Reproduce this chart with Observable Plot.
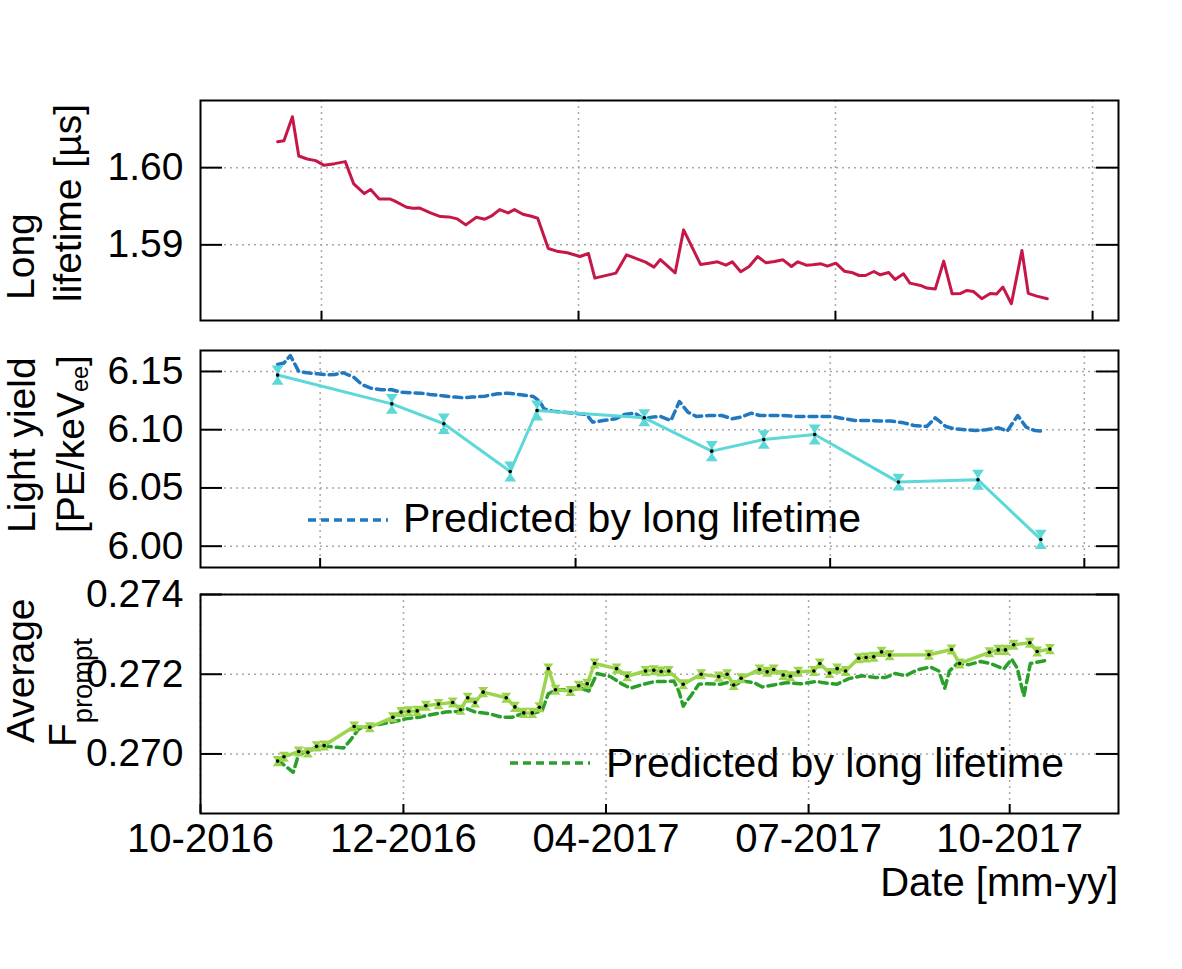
<!DOCTYPE html>
<html><head><meta charset="utf-8">
<script src="https://cdn.jsdelivr.net/npm/d3@7"></script>
<script src="https://cdn.jsdelivr.net/npm/@observablehq/plot@0.6"></script>
<style>
body{margin:0;background:#fff;}
#fig{position:relative;width:1182px;height:969px;font-family:"Liberation Sans",Arial,Helvetica,sans-serif;color:#000;overflow:hidden;background:#fff;}
#fig svg.p{position:absolute;left:0;}
.t{position:absolute;font-size:39px;white-space:nowrap;line-height:39px;}
.rot{transform-origin:0 0;transform:rotate(-90deg);}
</style></head><body><div id="fig"></div>
<script>
// ---- data (x = days since 2016-11-01) ----
const lifetimeDays = [1,4,8,11,15,19,23,28,33,37,42,45,49,54,56,62,65,68,73,78,82,86,90,95,99,102,106,110,113,117,121,124,129,133,138,144,148,151,155,161,166,171,175,179,182,186,189,193,201,205,209,213,216,220,224,228,232,236,240,244,247,251,254,258,261,265,269,273,276,279,283,286,290,293,297,300,305,308,312,316,320,324,327,330,334,338,341,344,348,353,356,360,365];
const lifetimeVals = [1.60336,1.60349,1.60659,1.60151,1.60112,1.60091,1.60030,1.60052,1.60078,1.59789,
1.59664,1.59716,1.59595,1.59595,1.59573,1.59487,1.59474,1.59478,1.59418,1.59366,
1.59362,1.59336,1.59259,1.59358,1.59332,1.59371,1.59457,1.59414,1.59457,1.59397,
1.59371,1.59345,1.58953,1.58918,1.58897,1.58849,1.58888,1.58569,1.58595,1.58634,
1.58871,1.58819,1.58776,1.58711,1.58810,1.58711,1.58638,1.59194,1.58746,1.58763,
1.58780,1.58737,1.58780,1.58651,1.58720,1.58849,1.58767,1.58784,1.58806,1.58720,
1.58780,1.58737,1.58741,1.58754,1.58724,1.58763,1.58659,1.58638,1.58603,1.58603,
1.58655,1.58612,1.58642,1.58552,1.58625,1.58504,1.58474,1.58440,1.58427,1.58789,
1.58366,1.58371,1.58409,1.58397,1.58302,1.58371,1.58362,1.58453,1.58237,1.58927,
1.58371,1.58336,1.58302];

const lyDays = [1,55,79.6,111,123.7,174.4,206.3,230.9,255,294.6,332.2,361.9];
const lyVals = [6.1469,6.1222,6.1051,6.0641,6.1165,6.1102,6.0816,6.0916,6.0959,6.0550,6.0570,6.0058];
const lyErrs = [0.0060,0.0062,0.0064,0.0062,0.0062,0.0050,0.0064,0.0056,0.0062,0.0048,0.0063,0.0060];

const lyPredDays = [1,4,7,11,15,20,24,28,32,37,41,45,50,55,59,64,69,73,79,85,89,93,99,105,110,116,122,125,127,131,136,141,147,150,155,161,165,170,174,178,182,187,191,195,199,205,211,216,220,225,229,235,240,246,252,257,263,269,274,280,286,291,297,302,308,312,317,321,327,331,336,342,346,351,355,359,362];
const lyPredVals = [6.1560,6.1572,6.1637,6.1500,6.1489,6.1480,6.1471,6.1474,6.1489,6.1451,
6.1386,6.1357,6.1343,6.1343,6.1323,6.1317,6.1314,6.1303,6.1291,6.1280,
6.1274,6.1280,6.1288,6.1308,6.1314,6.1300,6.1285,6.1242,6.1179,6.1159,
6.1151,6.1142,6.1131,6.1065,6.1079,6.1094,6.1131,6.1142,6.1094,6.1108,
6.1114,6.1079,6.1242,6.1151,6.1114,6.1122,6.1122,6.1094,6.1108,6.1142,
6.1122,6.1122,6.1122,6.1114,6.1114,6.1114,6.1114,6.1094,6.1079,6.1079,
6.1074,6.1074,6.1059,6.1036,6.1028,6.1102,6.1028,6.1008,6.0999,6.0993,
6.0999,6.1016,6.0988,6.1122,6.1022,6.0993,6.0988];

const fpDays = [1,4,11,15.3,19.4,23,37.2,44.6,55.5,59.4,63,67,71.1,77.1,83.8,87.5,90.9,94.4,98.2,109.1,113.2,117.4,121.4,124.8,129,132.4,139.5,143.4,147.4,150.9,161.3,166.3,175,178.9,182.4,186,192.8,201.3,209.6,213.6,216.7,220.2,228.9,232.5,235.6,240.1,243.5,247.2,254.6,257.4,262,265.6,269.6,275.8,279.3,282.9,286.6,290.4,309,319.7,323.5,337.6,341.8,345.2,349.1,356.7,360.2,366.2];
const fpVals = [0.26982,0.26993,0.27006,0.27004,0.27019,0.27021,0.27069,0.27067,0.27092,0.27105,
0.27107,0.27108,0.27121,0.27125,0.27129,0.27111,0.27141,0.27129,0.27155,0.27141,
0.27118,0.27103,0.27103,0.27117,0.27214,0.27161,0.27158,0.27171,0.27176,0.27227,
0.27214,0.27195,0.27208,0.27210,0.27207,0.27208,0.27175,0.27200,0.27194,0.27200,
0.27173,0.27190,0.27212,0.27206,0.27212,0.27198,0.27195,0.27206,0.27208,0.27227,
0.27203,0.27214,0.27208,0.27240,0.27242,0.27244,0.27256,0.27248,0.27249,0.27262,
0.27227,0.27255,0.27261,0.27261,0.27274,0.27279,0.27257,0.27263];
const fpErr = 0.00007;

const fpPredDays = [1,8.4,11,15.7,19.7,23.6,27.6,32.3,35.9,39.4,44.1,48.8,55.2,61.5,67.8,74.1,80.4,86.7,89.8,94.6,100.9,107.2,111.9,116.7,121.4,126.1,129,132.4,136.3,139.5,144.2,148.2,152.1,158.4,164,167.9,174.2,179.7,184.4,188.4,190.7,192.8,196.3,200.2,204.2,210.4,213.6,216.7,220.7,226.2,230.2,235.6,242,248.3,256.2,258.5,265.6,271.1,277.4,283.7,288.5,293.2,297.9,303.5,309.8,313.7,316.5,318.7,322.4,327.9,333.4,338.1,344.4,348.1,350.8,353.9,357,364.1,365.7];
const fpPredVals = [0.26985,0.26954,0.27000,0.27007,0.27017,0.27020,0.27017,0.27015,0.27038,0.27063,
0.27069,0.27074,0.27080,0.27088,0.27092,0.27099,0.27105,0.27107,0.27115,0.27105,
0.27101,0.27092,0.27092,0.27101,0.27101,0.27109,0.27151,0.27160,0.27161,0.27160,
0.27165,0.27158,0.27202,0.27194,0.27175,0.27165,0.27175,0.27182,0.27182,0.27183,
0.27158,0.27120,0.27145,0.27175,0.27176,0.27175,0.27179,0.27171,0.27183,0.27179,
0.27168,0.27173,0.27179,0.27176,0.27182,0.27179,0.27175,0.27189,0.27196,0.27192,
0.27192,0.27202,0.27196,0.27211,0.27218,0.27208,0.27165,0.27208,0.27227,0.27224,
0.27232,0.27227,0.27213,0.27238,0.27215,0.27145,0.27227,0.27234,0.27235];

// axes
const xDomainDays = [-35.47, 398.66];
const topTickDays = [21.75, 143.3, 264.8, 386.4];
const midTickDays = [21.1, 141.9, 262.3, 382.5];
const bottomTickDays = [-35.47, 60.5, 156.3, 252.1, 347.2];
const bottomTickLabels = ["10-2016","12-2016","04-2017","07-2017","10-2017"];
const topYTicks = [1.59, 1.60];
const midYTicks = [6.00, 6.05, 6.10, 6.15];
const botYTicks = [0.270, 0.272, 0.274];

// colours
const cLife = "#c51848", cLy = "#5cd8d8", cLyPred = "#1f78c0", cF = "#9bd54e", cFPred = "#2aa02a";

// ---- helpers ----
const START = Date.UTC(2016, 10, 1);
const toDate = d => new Date(START + d * 864e5);
const W = 1182, ML = 200, MR = 64, FW = W - ML - MR;
const FONT = '"Liberation Sans", Arial, Helvetica, sans-serif';
const xDomain = xDomainDays.map(toDate);
const rows = (days, vals, errs) => days.map((d, i) => ({date: toDate(d), v: vals[i], e: errs === undefined ? 0 : (Array.isArray(errs) ? errs[i] : errs)}));

const capDown = {draw(c, size) { const r = Math.sqrt(size / Math.PI); c.moveTo(-r, -r*0.45); c.lineTo(r, -r*0.45); c.lineTo(r*0.3, r*0.55); c.lineTo(-r*0.3, r*0.55); c.closePath(); }};
const capUp = {draw(c, size) { const r = Math.sqrt(size / Math.PI); c.moveTo(-r, r*0.45); c.lineTo(r, r*0.45); c.lineTo(r*0.3, -r*0.55); c.lineTo(-r*0.3, -r*0.55); c.closePath(); }};

const gridStyle = {stroke: "#a8a8a8", strokeOpacity: 1, strokeDasharray: "2,4", strokeWidth: 1.5};

function panel({top, height, mt, mb, yDomain, yTicks, yFmt, xTickDays, xLabels, marks}) {
  const fh = height - mt - mb;
  const xt = xTickDays.map(toDate);
  const labelMap = new Map(xt.map((d, i) => [+d, xLabels ? xLabels[i] : ""]));
  const svg = Plot.plot({
    width: W, height, marginLeft: ML, marginRight: MR, marginTop: mt, marginBottom: mb,
    style: {fontFamily: FONT, fontSize: "39px", background: "transparent", overflow: "visible", color: "#000"},
    x: {type: "utc", domain: xDomain, ...(xLabels ? {} : {axis: null})},
    y: {domain: yDomain},
    marks: [
      Plot.gridX(xt, gridStyle),
      Plot.gridY(yTicks, gridStyle),
      ...marks,
      Plot.tickY(yTicks, {y: d => d, insetRight: FW - 22, stroke: "#000", strokeWidth: 2}),
      Plot.tickY(yTicks, {y: d => d, insetLeft: FW - 22, stroke: "#000", strokeWidth: 2}),
      Plot.tickX(xt, {x: d => d, insetTop: fh - 9, stroke: "#000", strokeWidth: 2}),
      Plot.axisY(yTicks, {anchor: "left", tickSize: 0, tickPadding: 17, tickFormat: yFmt, fontSize: 39, label: null}),
      ...(xLabels ? [Plot.axisX(xt, {anchor: "bottom", tickSize: 0, tickPadding: 10, tickFormat: d => labelMap.get(+d), fontSize: 40, label: null})] : []),
      Plot.frame({stroke: "#000", strokeWidth: 2})
    ]
  });
  svg.classList.add("p");
  svg.style.top = top + "px";
  return svg;
}

const fig = document.getElementById("fig");

// top: long lifetime
const lifeRows = rows(lifetimeDays, lifetimeVals);
fig.appendChild(panel({
  top: 0, height: 330, mt: 100, mb: 10, yDomain: [1.5802, 1.6087], yTicks: topYTicks, yFmt: d3.format(".2f"),
  xTickDays: topTickDays,
  marks: [Plot.line(lifeRows, {x: "date", y: "v", stroke: cLife, strokeWidth: 3})]
}));

// middle: light yield
const lyRows = rows(lyDays, lyVals, lyErrs);
const lyPredRows = rows(lyPredDays, lyPredVals);
fig.appendChild(panel({
  top: 330, height: 250, mt: 20, mb: 13, yDomain: [5.9817, 6.168], yTicks: midYTicks, yFmt: d3.format(".2f"),
  xTickDays: midTickDays,
  marks: [
    Plot.line(lyPredRows, {x: "date", y: "v", stroke: cLyPred, strokeWidth: 3.5, strokeDasharray: "8,5"}),
    Plot.line(lyRows, {x: "date", y: "v", stroke: cLy, strokeWidth: 3}),
    Plot.ruleX(lyRows, {x: "date", y1: d => d.v - d.e, y2: d => d.v + d.e, stroke: cLy, strokeWidth: 3}),
    Plot.dot(lyRows, {x: "date", y: d => d.v + d.e, symbol: capDown, r: 6, fill: cLy, stroke: "none"}),
    Plot.dot(lyRows, {x: "date", y: d => d.v - d.e, symbol: capUp, r: 6, fill: cLy, stroke: "none"}),
    Plot.dot(lyRows, {x: "date", y: "v", r: 1.8, fill: "#000", stroke: "none"})
  ]
}));

// bottom: average Fprompt
const fRows = rows(fpDays, fpVals, fpErr);
const fPredRows = rows(fpPredDays, fpPredVals);
fig.appendChild(panel({
  top: 575, height: 394, mt: 19, mb: 156, yDomain: [0.268506, 0.274], yTicks: botYTicks, yFmt: d3.format(".3f"),
  xTickDays: bottomTickDays, xLabels: bottomTickLabels,
  marks: [
    Plot.line(fPredRows, {x: "date", y: "v", stroke: cFPred, strokeWidth: 3.5, strokeDasharray: "8,5"}),
    Plot.line(fRows, {x: "date", y: "v", stroke: cF, strokeWidth: 3.5}),
    Plot.ruleX(fRows, {x: "date", y1: d => d.v - d.e, y2: d => d.v + d.e, stroke: cF, strokeWidth: 3}),
    Plot.dot(fRows, {x: "date", y: d => d.v + d.e, symbol: capDown, r: 5, fill: cF, stroke: "none"}),
    Plot.dot(fRows, {x: "date", y: d => d.v - d.e, symbol: capUp, r: 5, fill: cF, stroke: "none"}),
    Plot.dot(fRows, {x: "date", y: "v", r: 1.8, fill: "#000", stroke: "none"})
  ]
}));

// ---- text: axis titles and legends ----
function addHTML(html) { fig.insertAdjacentHTML("beforeend", html); }
addHTML(`<div class="t rot" style="left:1px;top:300px">Long</div>`);
addHTML(`<div class="t rot" style="left:48px;top:302px">lifetime [µs]</div>`);
addHTML(`<div class="t rot" style="left:2px;top:533px">Light yield</div>`);
addHTML(`<div class="t rot" style="left:51px;top:533px">[PE/keV<span style="font-size:0.6em;vertical-align:-0.15em">ee</span>]</div>`);
addHTML(`<div class="t rot" style="left:1px;top:743px">Average</div>`);
addHTML(`<div class="t rot" style="left:43px;top:747px">F<span style="font-size:0.7em;vertical-align:-16px">prompt</span></div>`);
addHTML(`<div class="t" style="right:64px;top:863px;font-size:40px">Date [mm-yy]</div>`);

// legends
function legend(left, top, color, text, textLeft, textTop) {
  addHTML(`<svg style="position:absolute;left:${left}px;top:${top}px" width="84" height="10"><line x1="0" y1="5" x2="80" y2="5" stroke="${color}" stroke-width="3.5" stroke-dasharray="8,5"/></svg>`);
  addHTML(`<div class="t" style="left:${textLeft}px;top:${textTop}px;font-size:41px">${text}</div>`);
}
legend(308, 515, cLyPred, "Predicted by long lifetime", 403, 499);
legend(510, 758, cFPred, "Predicted by long lifetime", 606, 744);
</script></body></html>
